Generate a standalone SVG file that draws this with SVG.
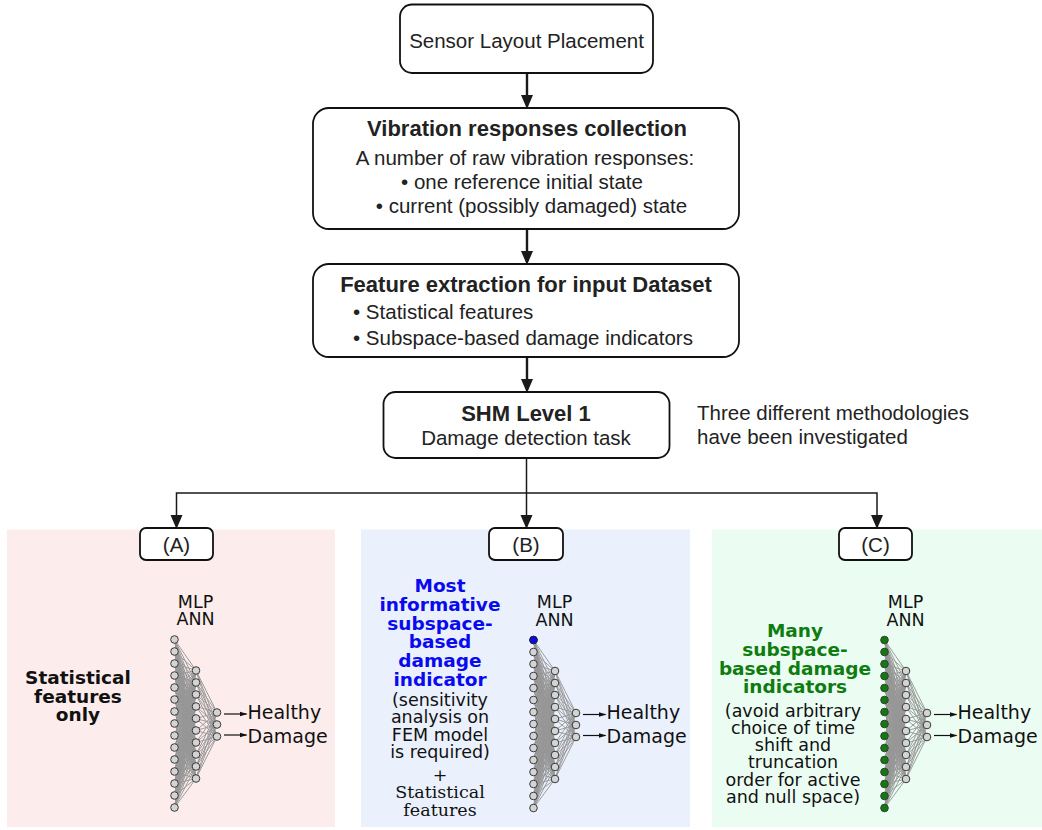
<svg xmlns="http://www.w3.org/2000/svg" xmlns:xlink="http://www.w3.org/1999/xlink" width="1042" height="830" viewBox="0 0 1042 830">
<style>
.box{fill:#fff;stroke:#111;stroke-width:1.8}
.ft{font-family:"Liberation Sans",Arial,sans-serif;fill:#222;font-size:20.5px}
.ftb{font-family:"Liberation Sans",Arial,sans-serif;fill:#222;font-size:22px;font-weight:bold}
.c{text-anchor:middle}
.conn{stroke:#1a1a1a;fill:none}
.nn{font-family:"DejaVu Sans",Verdana,sans-serif;fill:#111}
.pt{font-family:"DejaVu Sans",Verdana,sans-serif;font-size:17.5px;text-anchor:middle;fill:#111}
.pb{font-weight:bold;font-size:18.5px}
.ps{font-family:"DejaVu Serif","Liberation Serif",serif}
.node{stroke:#3a3a3a;stroke-width:1}
</style>
<defs>
<marker id="ah" markerUnits="userSpaceOnUse" markerWidth="14" markerHeight="14" viewBox="0 0 14 14" refX="11" refY="7" orient="auto"><path d="M0,1 L14,7 L0,13 z" fill="#1a1a1a"/></marker>
<marker id="sah" markerUnits="userSpaceOnUse" markerWidth="8" markerHeight="6" viewBox="0 0 8 6" refX="7" refY="3" orient="auto"><path d="M0,0.5 L8,3 L0,5.5 z" fill="#111"/></marker>
<g id="inputs" class="node">
<circle cx="0" cy="0" r="3.8"/><circle cx="0" cy="12" r="3.8"/><circle cx="0" cy="24" r="3.8"/><circle cx="0" cy="36" r="3.8"/><circle cx="0" cy="48" r="3.8"/><circle cx="0" cy="60" r="3.8"/><circle cx="0" cy="72" r="3.8"/><circle cx="0" cy="84" r="3.8"/><circle cx="0" cy="96" r="3.8"/><circle cx="0" cy="108" r="3.8"/><circle cx="0" cy="120" r="3.8"/><circle cx="0" cy="132" r="3.8"/><circle cx="0" cy="144" r="3.8"/><circle cx="0" cy="156" r="3.8"/><circle cx="0" cy="168" r="3.8"/>
</g>
<g id="net">
<path fill="none" stroke="#979797" stroke-width="0.95" stroke-linejoin="round" d="M0 0L21.5 31L0 12M0 24L21.5 31L0 36M0 48L21.5 31L0 60M0 72L21.5 31L0 84M0 96L21.5 31L0 108M0 120L21.5 31L0 132M0 144L21.5 31L0 156M0 168L21.5 31
M0 0L21.5 43L0 12M0 24L21.5 43L0 36M0 48L21.5 43L0 60M0 72L21.5 43L0 84M0 96L21.5 43L0 108M0 120L21.5 43L0 132M0 144L21.5 43L0 156M0 168L21.5 43
M0 0L21.5 55L0 12M0 24L21.5 55L0 36M0 48L21.5 55L0 60M0 72L21.5 55L0 84M0 96L21.5 55L0 108M0 120L21.5 55L0 132M0 144L21.5 55L0 156M0 168L21.5 55
M0 0L21.5 67L0 12M0 24L21.5 67L0 36M0 48L21.5 67L0 60M0 72L21.5 67L0 84M0 96L21.5 67L0 108M0 120L21.5 67L0 132M0 144L21.5 67L0 156M0 168L21.5 67
M0 0L21.5 79L0 12M0 24L21.5 79L0 36M0 48L21.5 79L0 60M0 72L21.5 79L0 84M0 96L21.5 79L0 108M0 120L21.5 79L0 132M0 144L21.5 79L0 156M0 168L21.5 79
M0 0L21.5 91L0 12M0 24L21.5 91L0 36M0 48L21.5 91L0 60M0 72L21.5 91L0 84M0 96L21.5 91L0 108M0 120L21.5 91L0 132M0 144L21.5 91L0 156M0 168L21.5 91
M0 0L21.5 103L0 12M0 24L21.5 103L0 36M0 48L21.5 103L0 60M0 72L21.5 103L0 84M0 96L21.5 103L0 108M0 120L21.5 103L0 132M0 144L21.5 103L0 156M0 168L21.5 103
M0 0L21.5 115L0 12M0 24L21.5 115L0 36M0 48L21.5 115L0 60M0 72L21.5 115L0 84M0 96L21.5 115L0 108M0 120L21.5 115L0 132M0 144L21.5 115L0 156M0 168L21.5 115
M0 0L21.5 127L0 12M0 24L21.5 127L0 36M0 48L21.5 127L0 60M0 72L21.5 127L0 84M0 96L21.5 127L0 108M0 120L21.5 127L0 132M0 144L21.5 127L0 156M0 168L21.5 127
M0 0L21.5 139L0 12M0 24L21.5 139L0 36M0 48L21.5 139L0 60M0 72L21.5 139L0 84M0 96L21.5 139L0 108M0 120L21.5 139L0 132M0 144L21.5 139L0 156M0 168L21.5 139
M21.5 31L42.5 73L21.5 43M21.5 55L42.5 73L21.5 67M21.5 79L42.5 73L21.5 91M21.5 103L42.5 73L21.5 115M21.5 127L42.5 73L21.5 139
M21.5 31L42.5 85L21.5 43M21.5 55L42.5 85L21.5 67M21.5 79L42.5 85L21.5 91M21.5 103L42.5 85L21.5 115M21.5 127L42.5 85L21.5 139
M21.5 31L42.5 97L21.5 43M21.5 55L42.5 97L21.5 67M21.5 79L42.5 97L21.5 91M21.5 103L42.5 97L21.5 115M21.5 127L42.5 97L21.5 139"/>
<g class="node" fill="#d4d4d4">
<circle cx="21.5" cy="31" r="3.8"/><circle cx="21.5" cy="43" r="3.8"/><circle cx="21.5" cy="55" r="3.8"/><circle cx="21.5" cy="67" r="3.8"/><circle cx="21.5" cy="79" r="3.8"/><circle cx="21.5" cy="91" r="3.8"/><circle cx="21.5" cy="103" r="3.8"/><circle cx="21.5" cy="115" r="3.8"/><circle cx="21.5" cy="127" r="3.8"/><circle cx="21.5" cy="139" r="3.8"/>
<circle cx="42.5" cy="73" r="3.8"/><circle cx="42.5" cy="85" r="3.8"/><circle cx="42.5" cy="97" r="3.8"/>
</g>
<line x1="49.5" y1="74.5" x2="72" y2="74.5" stroke="#111" stroke-width="1.2" marker-end="url(#sah)"/>
<line x1="49.5" y1="95.5" x2="72" y2="95.5" stroke="#111" stroke-width="1.2" marker-end="url(#sah)"/>
<text class="nn" x="73" y="79" font-size="19">Healthy</text>
<text class="nn" x="73" y="103" font-size="19">Damage</text>
<text class="nn" font-size="17.5" text-anchor="middle"><tspan x="21" y="-32">MLP</tspan><tspan x="21" y="-14.5">ANN</tspan></text>
</g>
</defs>

<g id="panel-A">
<rect x="7" y="529.5" width="328" height="297.5" fill="#fdecec"/>
<text class="pt pb" fill="#000"><tspan x="78" y="684">Statistical</tspan><tspan x="78" y="702.5">features</tspan><tspan x="78" y="721">only</tspan></text>
<g transform="translate(174.5,639.5)">
<use href="#net"/>
<use href="#inputs" fill="#d4d4d4"/>
</g>
</g>

<g id="panel-B">
<rect x="361" y="529.5" width="329" height="297.5" fill="#eaf1fd"/>
<text class="pt"><tspan class="pb" fill="#0a0aef" x="440" y="591.5">Most</tspan><tspan class="pb" fill="#0a0aef" x="440" y="610.5">informative</tspan><tspan class="pb" fill="#0a0aef" x="440" y="629.5">subspace-</tspan><tspan class="pb" fill="#0a0aef" x="440" y="648.3">based</tspan><tspan class="pb" fill="#0a0aef" x="440" y="667.2">damage</tspan><tspan class="pb" fill="#0a0aef" x="440" y="686">indicator</tspan><tspan x="440" y="706">(sensitivity</tspan><tspan x="440" y="723.4">analysis on</tspan><tspan x="440" y="740.8">FEM model</tspan><tspan x="440" y="758.2">is required)</tspan><tspan class="ps" x="440" y="781">+</tspan><tspan class="ps" x="440" y="798.3">Statistical</tspan><tspan class="ps" x="440" y="815.7">features</tspan></text>
<g transform="translate(533.5,640)">
<use href="#net"/>
<use href="#inputs" fill="#d4d4d4"/>
<circle cx="0" cy="0" r="3.8" fill="#0a0aef" stroke="#222" stroke-width="1"/>
</g>
</g>

<g id="panel-C">
<rect x="712" y="529.5" width="330" height="297.5" fill="#ebfdf2"/>
<text class="pt"><tspan class="pb" fill="#0e7c0e" x="795" y="636.7">Many</tspan><tspan class="pb" fill="#0e7c0e" x="795" y="655.6">subspace-</tspan><tspan class="pb" fill="#0e7c0e" x="795" y="674.5">based damage</tspan><tspan class="pb" fill="#0e7c0e" x="795" y="693.4">indicators</tspan><tspan x="793" y="716.7">(avoid arbitrary</tspan><tspan x="793" y="733.9">choice of time</tspan><tspan x="793" y="751.1">shift and</tspan><tspan x="793" y="768.3">truncation</tspan><tspan x="793" y="785.5">order for active</tspan><tspan x="793" y="802.7">and null space)</tspan></text>
<g transform="translate(884.5,640)">
<use href="#net"/>
<use href="#inputs" fill="#0e7c0e"/>
</g>
</g>

<g id="connectors" class="conn">
<line x1="527" y1="73" x2="527" y2="106" stroke-width="2.4" marker-end="url(#ah)"/>
<line x1="527" y1="229" x2="527" y2="262" stroke-width="2.4" marker-end="url(#ah)"/>
<line x1="527" y1="357" x2="527" y2="390" stroke-width="2.4" marker-end="url(#ah)"/>
<line x1="526.5" y1="458" x2="526.5" y2="526" stroke-width="1.5" marker-end="url(#ah)"/>
<path d="M176.5 526 V493 H877 V526" stroke-width="1.5" fill="none"/>
<line x1="176.5" y1="520" x2="176.5" y2="526" stroke-width="1.5" marker-end="url(#ah)"/>
<line x1="877" y1="520" x2="877" y2="526" stroke-width="1.5" marker-end="url(#ah)"/>
</g>

<g id="n-sensor">
<rect class="box" x="400" y="4.5" width="253" height="68.5" rx="12"/>
<text class="ft c" x="526.5" y="48">Sensor Layout Placement</text>
</g>
<g id="n-vibration">
<rect class="box" x="313" y="108" width="426" height="121" rx="16"/>
<text class="ftb c" x="527" y="136">Vibration responses collection</text>
<text class="ft c" x="525" y="165">A number of raw vibration responses:</text>
<text class="ft c" x="522" y="189">• one reference initial state</text>
<text class="ft c" x="531.5" y="213">• current (possibly damaged) state</text>
</g>
<g id="n-feature">
<rect class="box" x="313" y="264" width="426" height="93" rx="16"/>
<text class="ftb c" x="526" y="291.5">Feature extraction for input Dataset</text>
<text class="ft" x="353" y="318.5">• Statistical features</text>
<text class="ft" x="353" y="345">• Subspace-based damage indicators</text>
</g>
<g id="n-shm">
<rect class="box" x="383.5" y="392" width="286" height="66" rx="12"/>
<text class="ftb c" x="526" y="421" font-size="21.5">SHM Level 1</text>
<text class="ft c" x="526" y="445">Damage detection task</text>
</g>
<g id="note">
<text class="ft" x="697" y="420" font-size="19.5">Three different methodologies</text>
<text class="ft" x="697" y="444" font-size="19.5">have been investigated</text>
</g>
<g id="n-A">
<rect class="box" x="140" y="528" width="73" height="32" rx="6"/>
<text class="ft c" x="176.5" y="552">(A)</text>
</g>
<g id="n-B">
<rect class="box" x="489" y="528" width="74" height="32" rx="6"/>
<text class="ft c" x="526" y="552">(B)</text>
</g>
<g id="n-C">
<rect class="box" x="839" y="528" width="73" height="32" rx="6"/>
<text class="ft c" x="875.5" y="552">(C)</text>
</g>
</svg>
